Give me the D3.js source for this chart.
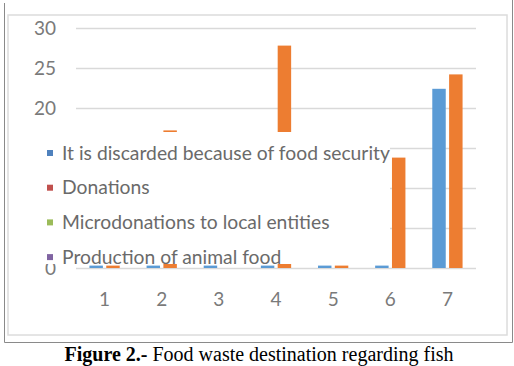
<!DOCTYPE html>
<html>
<head>
<meta charset="utf-8">
<script src="https://cdn.jsdelivr.net/npm/d3@7"></script>
<style>
  body { margin: 0; background: #fff; }
  svg { display: block; }
</style>
</head>
<body>
<div id="chart"></div>
<script>
// data
const categories = ["1", "2", "3", "4", "5", "6", "7"];
const seriesNames = ["blue", "orange"];
const blueValues = [0.3, 0.3, 0.3, 0.3, 0.3, 0.3, 22.4];
const orangeValues = [0.3, 17.2, 0, 27.8, 0.3, 13.8, 24.2];
const yTicks = [0, 5, 10, 15, 20, 25, 30];
const legendLabels = [
  "It is discarded because of food security",
  "Donations",
  "Microdonations to local entities",
  "Production of animal food"
];
const legendColors = ["#4F81BD", "#C0504D", "#9BBB59", "#8064A2"];
const caption = ["Figure 2.-", " Food waste destination regarding fish"];

const width = 514,
    height = 366,
    margin = ({ top: 28, right: 38, bottom: 98, left: 76 });

const svg = d3.select("#chart")
    .append("svg")
    .attr("width", width)
    .attr("height", height)
    .attr("viewBox", [0, 0, width, height]);

svg.append("rect")
    .attr("width", width)
    .attr("height", height)
    .attr("fill", "#fff");

// outer frame (no top edge) and the light chart area border
svg.append("path")
    .attr("d", "M4.5,3V342.5H512.5V0")
    .attr("fill", "none")
    .attr("stroke", "#8a8a8a")
    .attr("stroke-width", 1);

svg.append("rect")
    .attr("x", 8)
    .attr("y", 15)
    .attr("width", 499)
    .attr("height", 320)
    .attr("fill", "#fff")
    .attr("stroke", "#dcdcdc")
    .attr("stroke-width", 1.5);

const data = categories.map((c, i) => ({ cat: c, blue: blueValues[i], orange: orangeValues[i] }));

let x = d3.scaleBand()
    .domain(categories)
    .range([margin.left, width - margin.right])
    .paddingInner(0.47)
    .paddingOuter(0.235);

let xs = d3.scaleBand()
    .domain(seriesNames)
    .range([0, x.bandwidth()])
    .paddingInner(0.2);

let y = d3.scaleLinear()
    .domain([0, 30])
    .range([height - margin.bottom, margin.top]);

let color = d3.scaleOrdinal()
    .domain(seriesNames)
    .range(["#5B9BD5", "#ED7D31"]);

// gridlines + y labels
svg.append("g")
    .attr("transform", `translate(${margin.left},0)`)
    .call(d3.axisLeft(y).tickValues(yTicks).tickSize(-(width - margin.left - margin.right)).tickPadding(20).tickFormat(d3.format("d")))
    .call(g => g.select(".domain").remove())
    .call(g => g.selectAll(".tick line").attr("stroke", "#d9d9d9").attr("stroke-width", 1.5))
    .call(g => g.selectAll(".tick text")
        .attr("fill", "#7a7a7a")
        .style("font-family", "Lato, 'Open Sans', sans-serif")
        .style("font-size", "19px"));

// bars
svg.append("g")
  .selectAll("g")
  .data(data)
  .join("g")
    .attr("transform", d => `translate(${x(d.cat)},0)`)
  .selectAll("rect")
  .data(d => seriesNames.map(k => ({ key: k, value: d[k] })))
  .join("rect")
    .attr("x", d => xs(d.key))
    .attr("width", xs.bandwidth())
    .attr("y", d => y(d.value))
    .attr("height", d => y(0) - y(d.value))
    .attr("fill", d => color(d.key));

// x labels
svg.append("g")
    .attr("transform", `translate(0,${y(0)})`)
    .call(d3.axisBottom(x).tickSize(0).tickPadding(25))
    .call(g => g.select(".domain").remove())
    .call(g => g.selectAll(".tick text")
        .attr("fill", "#7a7a7a")
        .style("font-family", "Lato, 'Open Sans', sans-serif")
        .style("font-size", "19px"));

// legend box sits on top of the plot
const legend = svg.append("g");

legend.append("rect")
    .attr("x", 28)
    .attr("y", 132)
    .attr("width", 362)
    .attr("height", 132)
    .attr("fill", "#fff");

const item = legend.selectAll("g")
  .data(legendLabels)
  .join("g")
    .attr("transform", (d, i) => `translate(47,${153 + i * 34.7})`);

item.append("rect")
    .attr("y", -3)
    .attr("width", 6)
    .attr("height", 6)
    .attr("fill", (d, i) => legendColors[i]);

item.append("text")
    .attr("x", 15)
    .attr("dy", "0.35em")
    .attr("fill", "#6a6a6a")
    .style("font-family", "Lato, 'Open Sans', sans-serif")
    .style("font-size", "19.3px")
    .text(d => d);

// caption
const cap = svg.append("text")
    .attr("x", 259)
    .attr("y", 361)
    .attr("text-anchor", "middle")
    .style("font-family", "'Liberation Serif', 'Times New Roman', serif")
    .style("font-size", "20px")
    .attr("fill", "#000");

cap.append("tspan").style("font-weight", "bold").text(caption[0]);
cap.append("tspan").text(caption[1]);
</script>
</body>
</html>
